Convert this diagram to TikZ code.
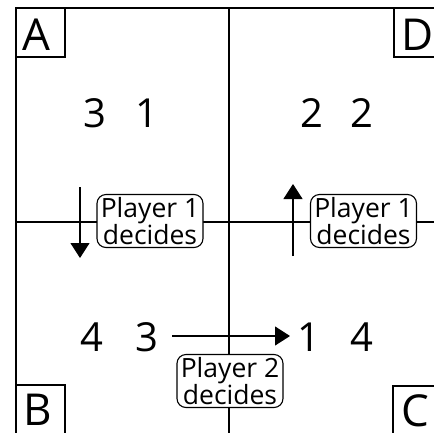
\documentclass[tikz,border=0pt]{standalone}
\usepackage{fontspec}
\setmainfont{Open Sans}
\usetikzlibrary{arrows.meta}
\begin{document}
\begin{tikzpicture}[x=1pt,y=1pt,
  ln/.style={line width=1.1pt},
  letter/.style={font=\fontsize{44}{44}\selectfont,inner sep=0pt,anchor=base},
  num/.style={font=\fontsize{40}{40}\selectfont,inner sep=0pt,anchor=base},
  dec/.style={draw,fill=white,line width=1.1pt,rounded corners=9pt,inner sep=0pt,minimum width=106pt,minimum height=53pt,align=center,font=\fontsize{26.5}{23.5}\selectfont},
  arr/.style={line width=1.1pt,-{Triangle[width=19pt,length=15pt]}}]
\useasboundingbox (0,-432) rectangle (434,0);
% grid lines
\coordinate (tl) at (16,-8);
\coordinate (tr) at (440,-8);
\coordinate (bl) at (16,-440);
\coordinate (mt) at (229,-8);
\coordinate (mb) at (229,-440);
\coordinate (hl) at (16,-222);
\coordinate (hr) at (440,-222);
\draw[ln] (bl) -- (tl) -- (tr);
\draw[ln] (mt) -- (mb);
\draw[ln] (hl) -- (hr);
% corner boxes
\coordinate (cA) at (65,-57);
\coordinate (cD) at (394,-57);
\coordinate (cB) at (65,-385);
\coordinate (cC) at (393,-386);
\draw[ln] (16,-57) -- (cA) -- (65,-8);
\draw[ln] (440,-57) -- (cD) -- (394,-8);
\draw[ln] (16,-385) -- (cB) -- (65,-440);
\draw[ln] (440,-386) -- (cC) -- (393,-440);
\node[letter] (A) at (36,-50) {A};
\node[letter] (D) at (418,-50) {D};
\node[letter] (B) at (38,-425) {B};
\node[letter] (C) at (415,-426) {C};
% payoffs
\node[num] (n1) at (95,-127) {3};
\node[num] (n2) at (147,-127) {1};
\node[num] (n3) at (312,-127) {2};
\node[num] (n4) at (362,-127) {2};
\node[num] (n5) at (92,-351) {4};
\node[num] (n6) at (147,-351) {3};
\node[num] (n7) at (309,-351) {1};
\node[num] (n8) at (362,-351) {4};
% decision labels
\node[dec] (d1) at (150,-221) {Player 1\\decides};
\node[dec] (d2) at (363.5,-221) {Player 1\\decides};
\node[dec] (d3) at (230,-381) {Player 2\\decides};
% arrows
\coordinate (a1s) at (80,-187);
\coordinate (a1e) at (80,-258);
\coordinate (a2s) at (293,-256);
\coordinate (a2e) at (293,-184);
\coordinate (a3s) at (172,-336);
\coordinate (a3e) at (290,-336);
\draw[arr] (a1s) -- (a1e);
\draw[arr] (a2s) -- (a2e);
\draw[arr] (a3s) -- (a3e);
\end{tikzpicture}
\end{document}
